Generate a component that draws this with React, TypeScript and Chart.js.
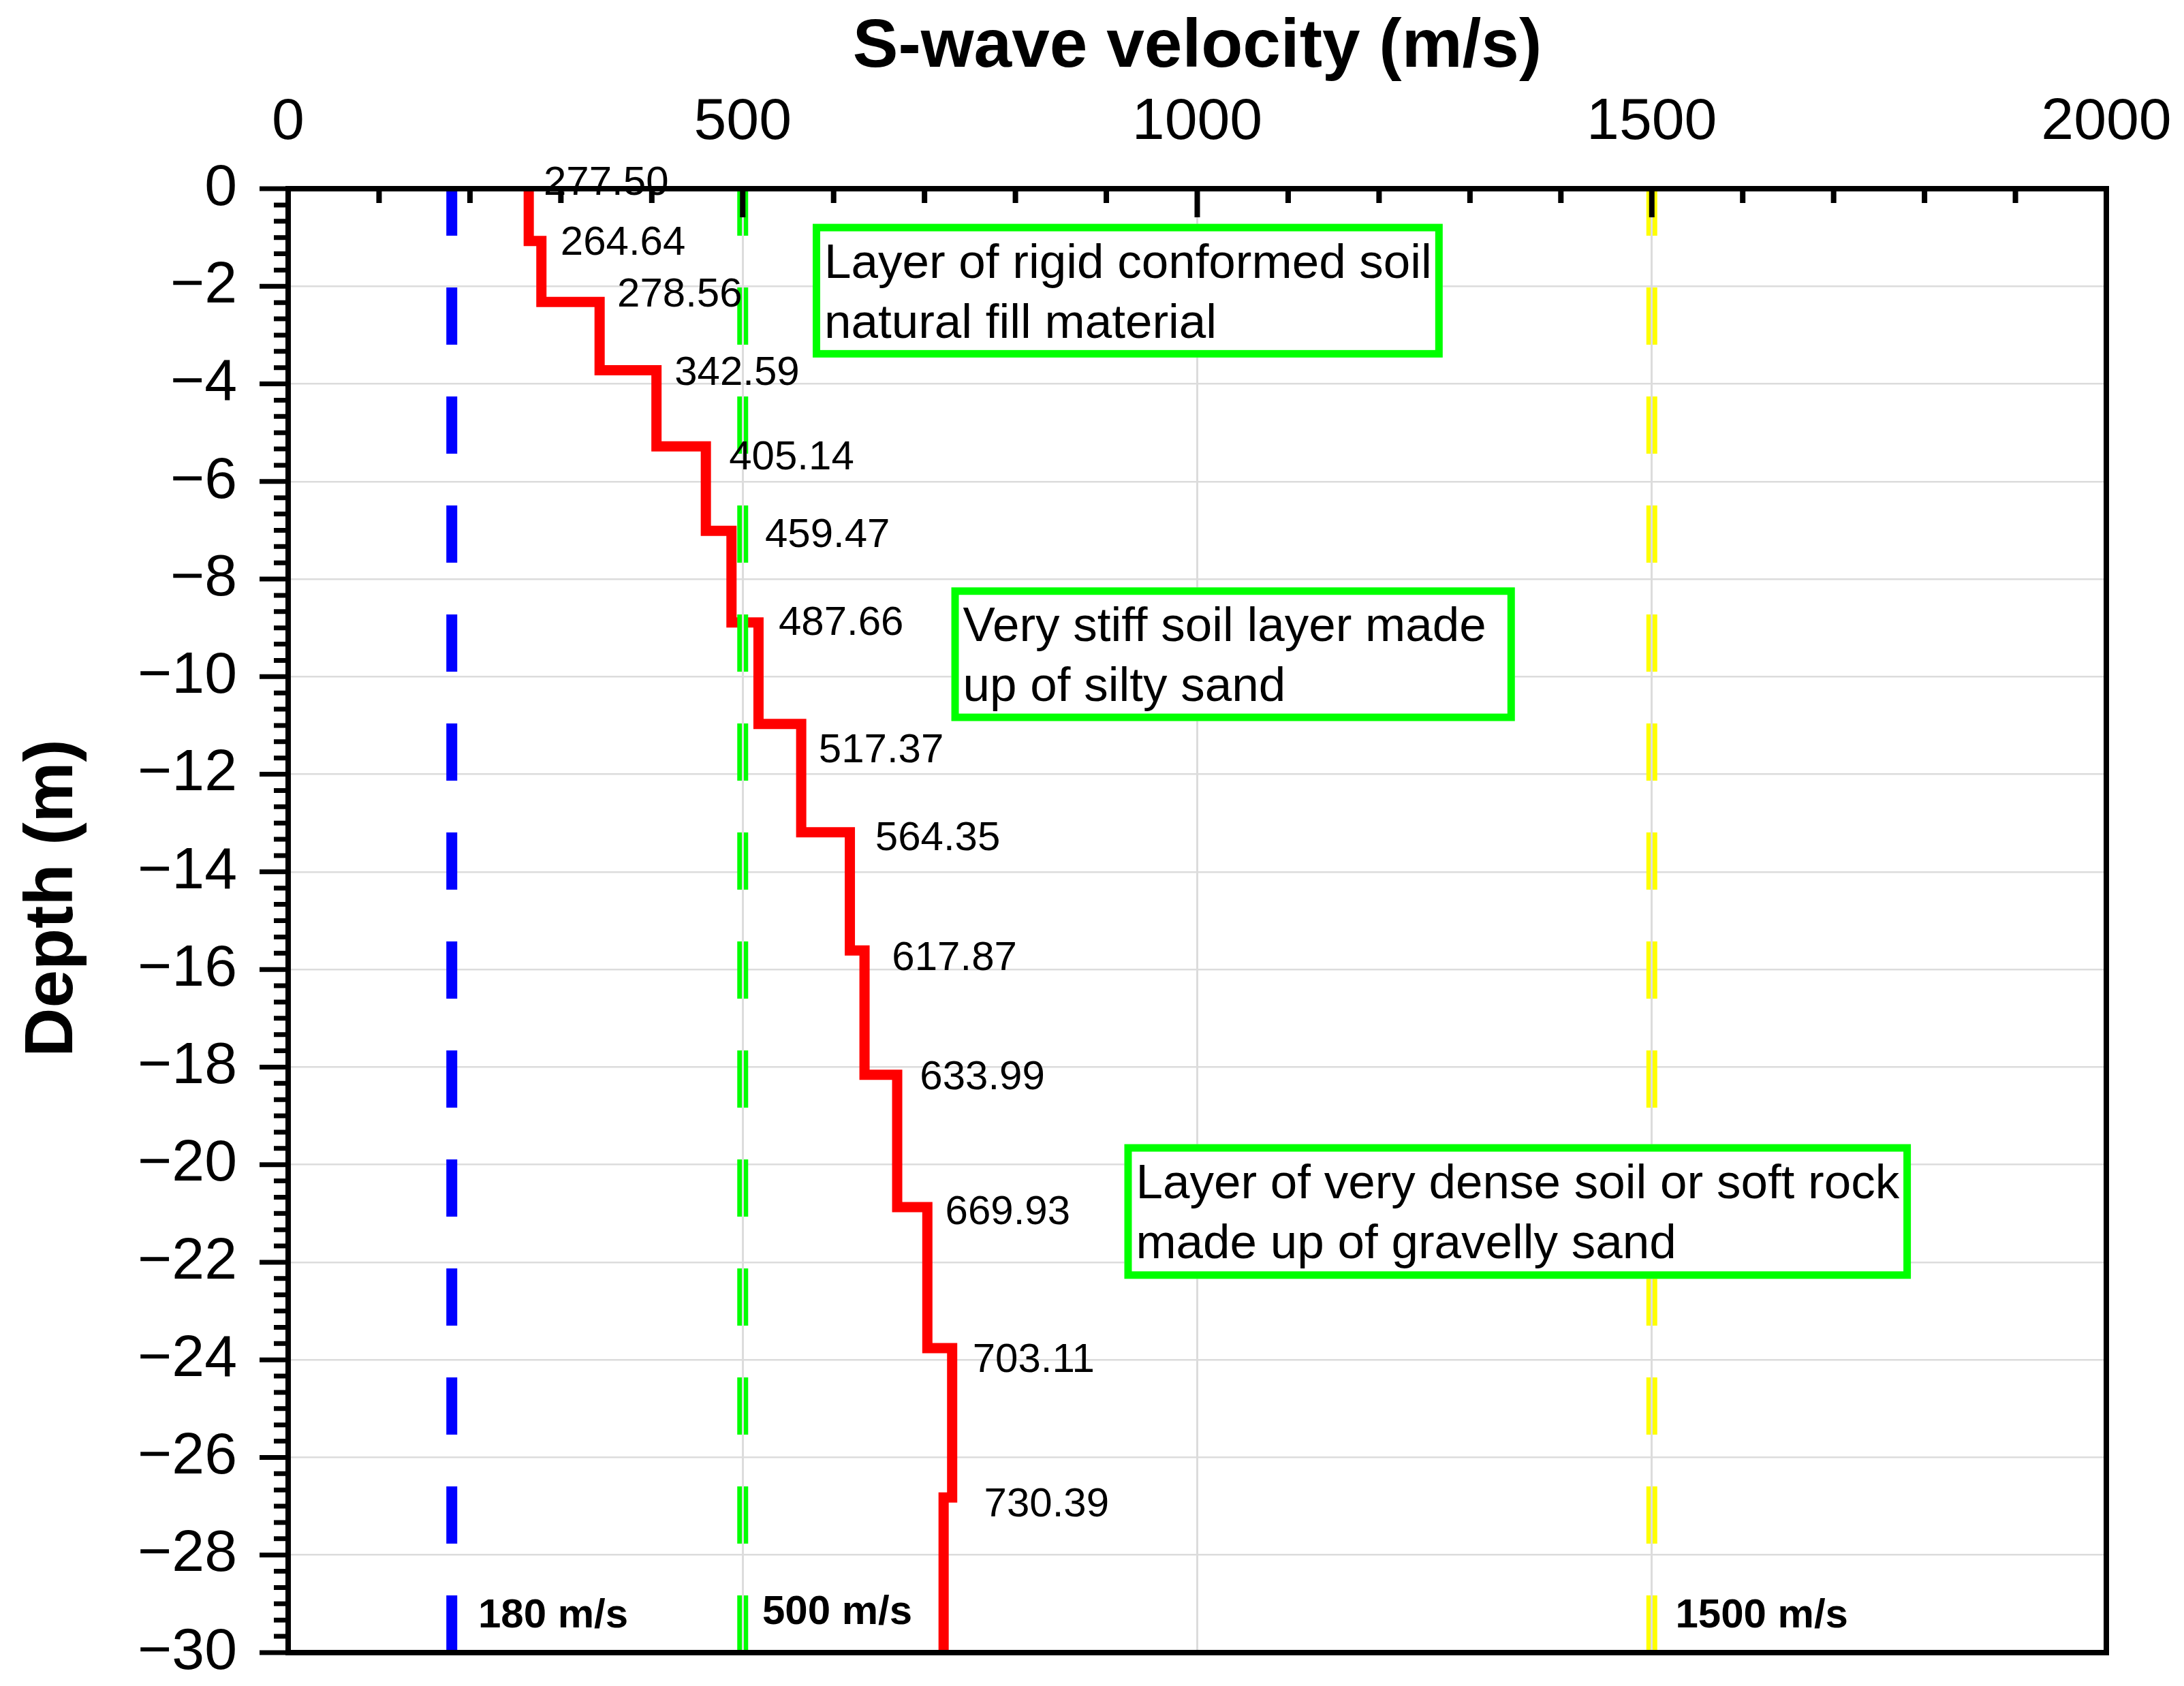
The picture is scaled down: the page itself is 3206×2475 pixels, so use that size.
import React, { useEffect, useRef } from 'react';
import { Chart, registerables, Plugin } from 'chart.js';

Chart.register(...registerables);

const FONT = '"Liberation Sans", Arial, Helvetica, sans-serif';

// layer boundaries (m) and S-wave velocity of each layer (m/s)
const layerDepths = [0, -1.07, -2.32, -3.72, -5.28, -7.01, -8.89, -10.97, -13.19, -15.61, -18.16, -20.87, -23.76, -26.82, -30];
const layerVs = [264.64, 278.56, 342.59, 405.14, 459.47, 487.66, 517.37, 564.35, 617.87, 633.99, 669.93, 703.11, 730.39, 721];

// numbers printed beside the profile (left end of the baseline, in data units)
const valueLabels = ['277.50', '264.64', '278.56', '342.59', '405.14', '459.47', '487.66', '517.37', '564.35', '617.87', '633.99', '669.93', '703.11', '730.39'];
const valueLabelX = [281, 299.6, 362, 425, 485, 524.5, 539.5, 583.6, 645.8, 664.2, 694.9, 722.8, 752.9, 765.5];
const valueLabelY = [-0.13, -1.355, -2.416, -4.02, -5.75, -7.34, -9.15, -11.76, -13.56, -16.01, -18.45, -21.22, -24.25, -27.21];

// site class reference velocities
const refVs = [180, 500, 1500];
const refColors = ['#0000ff', '#00ff00', '#ffff00'];
const refLabels = ['180 m/s', '500 m/s', '1500 m/s'];
const refLabelX = [209, 521.5, 1526];
const refLabelY = [-29.48, -29.41, -29.48];

// annotation boxes
const boxText = [
  ['Layer of rigid conformed soil', 'natural fill material'],
  ['Very stiff soil layer made', 'up of silty sand'],
  ['Layer of very dense soil or soft rock', 'made up of gravelly sand'],
];
const boxLeft = [577, 729.5, 919.8];
const boxRight = [1270, 1349.4, 1785];
const boxTop = [-0.72, -8.17, -19.58];
const boxBottom = [-3.46, -10.91, -22.34];

// axis ticks
const xTickValues = [0, 500, 1000, 1500, 2000];
const yTickValues = [0, -2, -4, -6, -8, -10, -12, -14, -16, -18, -20, -22, -24, -26, -28, -30];
const xMinorPerMajor = 5;
const yMinorPerMajor = 6;

const xTitle = 'S-wave velocity (m/s)';
const yTitle = 'Depth (m)';

const profilePoints = layerVs.flatMap((v, i) => [
  { x: v, y: layerDepths[i] },
  { x: v, y: layerDepths[i + 1] },
]);

const gridColor = '#dcdcdc';

const overlay: Plugin = {
  id: 'overlay',
  afterDraw(chart) {
    const { ctx, chartArea: a } = chart;
    const xs = chart.scales.x;
    const ys = chart.scales.y;
    ctx.save();

    // value labels
    ctx.fillStyle = '#000';
    ctx.textAlign = 'left';
    ctx.textBaseline = 'alphabetic';
    ctx.font = `60px ${FONT}`;
    valueLabels.forEach((t, i) => {
      ctx.fillText(t, xs.getPixelForValue(valueLabelX[i]), ys.getPixelForValue(valueLabelY[i]));
    });

    // reference line labels
    ctx.font = `bold 60px ${FONT}`;
    refLabels.forEach((t, i) => {
      ctx.fillText(t, xs.getPixelForValue(refLabelX[i]), ys.getPixelForValue(refLabelY[i]));
    });

    // frame
    ctx.strokeStyle = '#000';
    ctx.lineWidth = 8;
    ctx.strokeRect(a.left, a.top, a.right - a.left, a.bottom - a.top);

    // top ticks (inward)
    ctx.lineWidth = 8;
    ctx.beginPath();
    for (let i = 0; i < xTickValues.length - 1; i++) {
      const step = (xTickValues[i + 1] - xTickValues[i]) / xMinorPerMajor;
      for (let k = 0; k < xMinorPerMajor; k++) {
        const px = xs.getPixelForValue(xTickValues[i] + k * step);
        ctx.moveTo(px, a.top);
        ctx.lineTo(px, a.top + (k === 0 ? 42 : 21));
      }
    }
    ctx.stroke();

    // left ticks (outward)
    ctx.lineWidth = 7;
    ctx.beginPath();
    for (let i = 0; i < yTickValues.length; i++) {
      const last = i === yTickValues.length - 1;
      const step = last ? 0 : (yTickValues[i + 1] - yTickValues[i]) / yMinorPerMajor;
      for (let k = 0; k < (last ? 1 : yMinorPerMajor); k++) {
        const py = ys.getPixelForValue(yTickValues[i] + k * step);
        ctx.moveTo(a.left, py);
        ctx.lineTo(a.left - (k === 0 ? 42 : 21), py);
      }
    }
    ctx.stroke();

    // annotation boxes
    boxText.forEach((lines, i) => {
      const l = xs.getPixelForValue(boxLeft[i]);
      const r = xs.getPixelForValue(boxRight[i]);
      const t = ys.getPixelForValue(boxTop[i]);
      const b = ys.getPixelForValue(boxBottom[i]);
      ctx.fillStyle = '#fff';
      ctx.fillRect(l, t, r - l, b - t);
      ctx.strokeStyle = '#00ff00';
      ctx.lineWidth = 11;
      ctx.strokeRect(l + 5.5, t + 5.5, r - l - 11, b - t - 11);
      ctx.fillStyle = '#000';
      ctx.font = `71px ${FONT}`;
      lines.forEach((line, j) => ctx.fillText(line, l + 17, t + 79 + j * 88));
    });

    // axis titles
    ctx.fillStyle = '#000';
    ctx.font = `bold 100px ${FONT}`;
    ctx.textAlign = 'center';
    ctx.fillText(xTitle, (a.left + a.right) / 2, 98);
    ctx.translate(106, (a.top + a.bottom) / 2 - 33);
    ctx.rotate(-Math.PI / 2);
    ctx.fillText(yTitle, 0, 0);

    ctx.restore();
  },
};

// keep chart area fixed: no extra label padding from the scales
const noScalePadding = (s: any) => {
  s.paddingLeft = 0;
  s.paddingRight = 0;
  s.paddingTop = 0;
  s.paddingBottom = 0;
};

function VsProfileChart() {
  const canvasRef = useRef<HTMLCanvasElement | null>(null);
  const chartRef = useRef<Chart | null>(null);

  useEffect(() => {
    if (!canvasRef.current) return;
    chartRef.current?.destroy();

    const refSets = refVs.map((v, i) => ({
      label: refLabels[i],
      data: [
        { x: v, y: -30 },
        { x: v, y: 0 },
      ],
      showLine: true,
      borderColor: refColors[i],
      borderWidth: 16,
      borderDash: [84, 76],
      borderCapStyle: 'butt' as const,
      pointRadius: 0,
    }));

    chartRef.current = new Chart(canvasRef.current, {
      type: 'scatter',
      data: {
        datasets: [
          ...refSets,
          {
            label: 'Vs',
            data: profilePoints,
            showLine: true,
            borderColor: '#ff0000',
            borderWidth: 15,
            borderJoinStyle: 'miter',
            pointRadius: 0,
          },
        ],
      },
      options: {
        animation: false,
        responsive: true,
        maintainAspectRatio: false,
        layout: { autoPadding: false, padding: { left: 0, top: 0, right: 114, bottom: 49 } },
        plugins: { legend: { display: false }, tooltip: { enabled: false } },
        scales: {
          x: {
            type: 'linear',
            position: 'top',
            min: 0,
            max: 2000,
            afterBuildTicks: (s) => {
              s.ticks = xTickValues.map((value) => ({ value }));
            },
            afterFit: (s) => {
              s.height = 277;
              noScalePadding(s);
            },
            ticks: {
              color: '#000',
              font: { family: FONT, size: 86, lineHeight: 1 },
              padding: 54,
              maxRotation: 0,
              autoSkip: false,
              callback: (v) => String(v),
            },
            grid: {
              z: 1,
              drawTicks: false,
              lineWidth: 3,
              color: (c) => (c.tick && (c.tick.value === 0 || c.tick.value === 2000) ? 'rgba(0,0,0,0)' : gridColor),
            },
            border: { display: false },
          },
          y: {
            type: 'linear',
            position: 'left',
            min: -30,
            max: 0,
            afterBuildTicks: (s) => {
              s.ticks = yTickValues.map((value) => ({ value }));
            },
            afterFit: (s) => {
              s.width = 423;
              noScalePadding(s);
            },
            ticks: {
              color: '#000',
              font: { family: FONT, size: 86, lineHeight: 1 },
              padding: 75,
              autoSkip: false,
              callback: (v) => (Number(v) < 0 ? '\u2212' + Math.abs(Number(v)) : String(v)),
            },
            grid: {
              drawTicks: false,
              lineWidth: 2.5,
              color: (c) => (c.tick && (c.tick.value === 0 || c.tick.value === -30) ? 'rgba(0,0,0,0)' : gridColor),
            },
            border: { display: false },
          },
        },
      },
      plugins: [overlay],
    });

    return () => {
      chartRef.current?.destroy();
      chartRef.current = null;
    };
  }, []);

  return <canvas ref={canvasRef} />;
}

export default function App() {
  return (
    <div style={{ position: 'fixed', left: 0, top: 0, width: 3206, height: 2475, background: '#fff' }}>
      <VsProfileChart />
    </div>
  );
}
